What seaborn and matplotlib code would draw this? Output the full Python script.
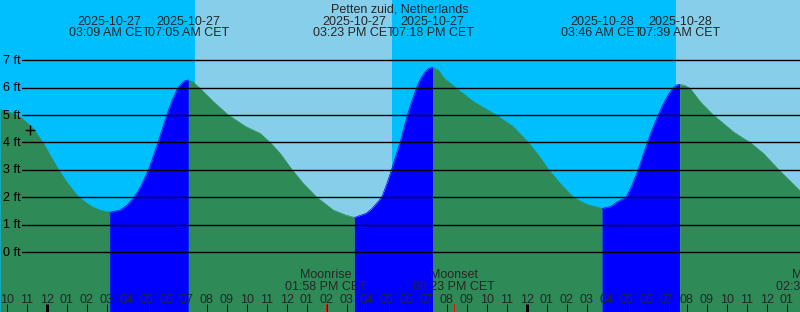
import numpy as np
import pandas as pd
import matplotlib
matplotlib.use("Agg")
import matplotlib.pyplot as plt
import matplotlib.transforms as mtransforms
import seaborn as sns

# ---------------- data (hours since 2025-10-27 00:00 CET) ----------------
title = "Petten zuid, Netherlands"

tide_hours = [-2.33, -1.83, -1.33, -0.67, -0.17, 0.5, 1.0, 1.58, 2.0, 2.33, 2.67, 3.15,
              3.67, 4.0, 4.33, 4.67, 5.08, 5.33, 5.58, 5.8, 6.0, 6.25, 6.5, 6.7, 6.9,
              7.083, 7.33, 7.67, 8.33, 9.08, 9.97, 10.67, 11.17, 11.67, 12.25, 12.83,
              13.5, 14.33, 14.9, 15.383,
              15.97, 16.25, 16.5, 16.75, 17.0, 17.25, 17.45, 17.67, 17.85, 18.03, 18.25,
              18.5, 18.7, 18.92, 19.1, 19.3, 19.58,
              19.87, 20.5, 21.33, 22.5, 23.33, 24.08, 24.58, 25.08, 25.67, 26.33,
              27.0, 27.767, 28.2, 28.55, 28.98, 29.27, 29.57, 29.8, 30.03, 30.3, 30.57,
              30.82, 31.07, 31.27, 31.48, 31.65,
              31.9, 32.17, 32.67, 33.33, 34.33, 34.83, 35.17, 35.83, 36.58, 37.67]
tide_ft = [5.21, 5.10, 4.94, 4.51, 3.97, 3.11, 2.55, 2.02, 1.78, 1.63, 1.53, 1.45,
           1.53, 1.70, 1.96, 2.35, 2.99, 3.5, 4.03, 4.55, 5.0, 5.5, 5.91, 6.12, 6.25,
           6.28, 6.2, 5.97, 5.49, 5.0, 4.57, 4.33, 4.0, 3.6, 3.02, 2.5,
           2.0, 1.53, 1.36, 1.26,
           1.41, 1.58, 1.78, 2.0, 2.48, 3.02, 3.5, 4.0, 4.5, 4.99, 5.5,
           6.01, 6.33, 6.58, 6.7, 6.74, 6.64,
           6.34, 5.97, 5.49, 4.99, 4.57, 4.0, 3.54, 3.02, 2.5, 2.0,
           1.74, 1.59, 1.66, 1.84, 2.0, 2.45, 3.0, 3.5, 4.0, 4.53, 4.99,
           5.4, 5.73, 5.95, 6.09, 6.12,
           6.08, 5.97, 5.49, 5.0, 4.39, 4.15, 4.0, 3.6, 3.02, 2.23]

extreme_hours = [3.15, 7.083, 15.383, 19.3, 27.767, 31.65]
extreme_kind = ["low", "high", "low", "high", "low", "high"]
extreme_dates = ["2025-10-27", "2025-10-27", "2025-10-27", "2025-10-27",
                 "2025-10-28", "2025-10-28"]
extreme_times = ["03:09 AM CET", "07:05 AM CET", "03:23 PM CET", "07:18 PM CET",
                 "03:46 AM CET", "07:39 AM CET"]

sunrise_hours = [7.42, 31.47]
sunset_hours = [17.27]

moon_hours = [13.967, 20.383, 38.53]
moon_names = ["Moonrise", "Moonset", "Moonrise"]
moon_times = ["01:58 PM CET", "08:23 PM CET", "02:32 PM CET"]

tick_hours = list(range(-2, 38))
tick_labels = ["10", "11", "12", "01", "02", "03", "04", "05", "06", "07", "08",
               "09", "10", "11", "12", "01", "02", "03", "04", "05", "06", "07",
               "08", "09", "10", "11", "12", "01", "02", "03", "04", "05", "06",
               "07", "08", "09", "10", "11", "12", "01"]
midnight_hours = [0, 24]

grid_ft = [0, 1, 2, 3, 4, 5, 6, 7]
grid_labels = ["0 ft", "1 ft", "2 ft", "3 ft", "4 ft", "5 ft", "6 ft", "7 ft"]

now_hour, now_ft = -0.83, 4.45

# ---------------- style ----------------
NIGHT = "#00BFFF"
DAY = "#87CEEB"
FALL = "#2E8B57"
RISE = "#0000FF"

sns.set_style("white")
plt.rcParams["font.family"] = ["Liberation Sans", "DejaVu Sans"]
FS = 9

W, H = 800, 312
fig = plt.figure(figsize=(W / 100, H / 100), dpi=100)
ax = fig.add_axes([0, 0, 1, 1])
x0, x1 = -2.335, 37.665
px_per_ft = 27.39
y0, y1 = -60 / px_per_ft, 252 / px_per_ft
for s in ax.spines.values():
    s.set_visible(False)

# sky background
ax.set_facecolor(NIGHT)
bounds = sorted([(h, "rise") for h in sunrise_hours] + [(h, "set") for h in sunset_hours])
day_start = None
for h, kind in bounds:
    if kind == "rise":
        day_start = h
    else:
        ax.axvspan(day_start if day_start is not None else x0, h, color=DAY, lw=0, zorder=0)
        day_start = None
if day_start is not None:
    ax.axvspan(day_start, x1, color=DAY, lw=0, zorder=0)

# tide segments
df = pd.DataFrame({"hour": tide_hours, "ft": tide_ft})
edges = [tide_hours[0]] + extreme_hours + [tide_hours[-1]]
kinds_end = extreme_kind + ["low"]
rows = []
for i in range(len(edges) - 1):
    a, b = edges[i], edges[i + 1]
    seg = df[(df.hour >= a - 1e-9) & (df.hour <= b + 1e-9)].copy()
    phase = "rising" if kinds_end[i] == "high" else "falling"
    seg["segment"] = i
    seg["phase"] = phase
    rows.append(seg)
    ax.fill_between(seg.hour, seg.ft, y0, color=RISE if phase == "rising" else FALL,
                    lw=0, zorder=1)
segdf = pd.concat(rows, ignore_index=True)
sns.lineplot(data=segdf, x="hour", y="ft", hue="phase", units="segment",
             estimator=None, palette={"rising": RISE, "falling": FALL},
             lw=0.5, legend=False, ax=ax, zorder=2)

# grid lines & labels
ylab_tr = mtransforms.blended_transform_factory(ax.transAxes, ax.transData)
for f, lab in zip(grid_ft, grid_labels):
    ax.axhline(f, xmin=22 / W, xmax=1, color="black", lw=1.0, zorder=3)
    ax.text(3 / W, f - 3.6 / px_per_ft, lab, transform=ylab_tr, ha="left",
            va="baseline", fontsize=FS, color="black", zorder=4)

# current position marker
ax.plot([now_hour], [now_ft], marker="+", ms=7, mew=1.0, color="black", zorder=4)

# x ticks
ax.set_xticks(tick_hours)
ax.set_xticklabels(tick_labels)
ax.set_xticks(moon_hours, minor=True)
ax.tick_params(axis="x", which="major", direction="in", length=8 * 0.72,
               width=0.72, color="black", labelsize=FS, pad=-9.3 * 0.72,
               bottom=True, labelbottom=True)
ax.tick_params(axis="x", which="minor", direction="in", length=8 * 0.72,
               width=0.72, color="red", bottom=True, labelbottom=False)
ax.tick_params(axis="y", left=False, labelleft=False)
for t in ax.get_xticklabels():
    t.set_verticalalignment("baseline")
for tick in ax.xaxis.get_major_ticks():
    if tick.get_loc() in midnight_hours:
        tick.tick1line.set_markeredgewidth(2.2)
ax.xaxis.set_zorder(5)

# limits last (set_xticks may expand them)
ax.set_xlim(x0, x1)
ax.set_ylim(y0, y1)

# texts
xtr = mtransforms.blended_transform_factory(ax.transData, ax.transAxes)
def ypos(py):
    return 1 - py / H

ax.text(0.5, ypos(12), title, transform=ax.transAxes, ha="center", va="baseline",
        fontsize=FS, zorder=6)
for h, d, t in zip(extreme_hours, extreme_dates, extreme_times):
    ax.text(h, ypos(25), d, transform=xtr, ha="center", va="baseline", fontsize=FS, zorder=6)
    ax.text(h, ypos(36.5), t, transform=xtr, ha="center", va="baseline", fontsize=FS, zorder=6)
for h, n, t in zip(moon_hours, moon_names, moon_times):
    ax.text(h, ypos(278), n, transform=xtr, ha="center", va="baseline", fontsize=FS,
            zorder=6, clip_on=False)
    ax.text(h, ypos(290), t, transform=xtr, ha="center", va="baseline", fontsize=FS,
            zorder=6, clip_on=False)

fig.savefig("out.png", dpi=100)
